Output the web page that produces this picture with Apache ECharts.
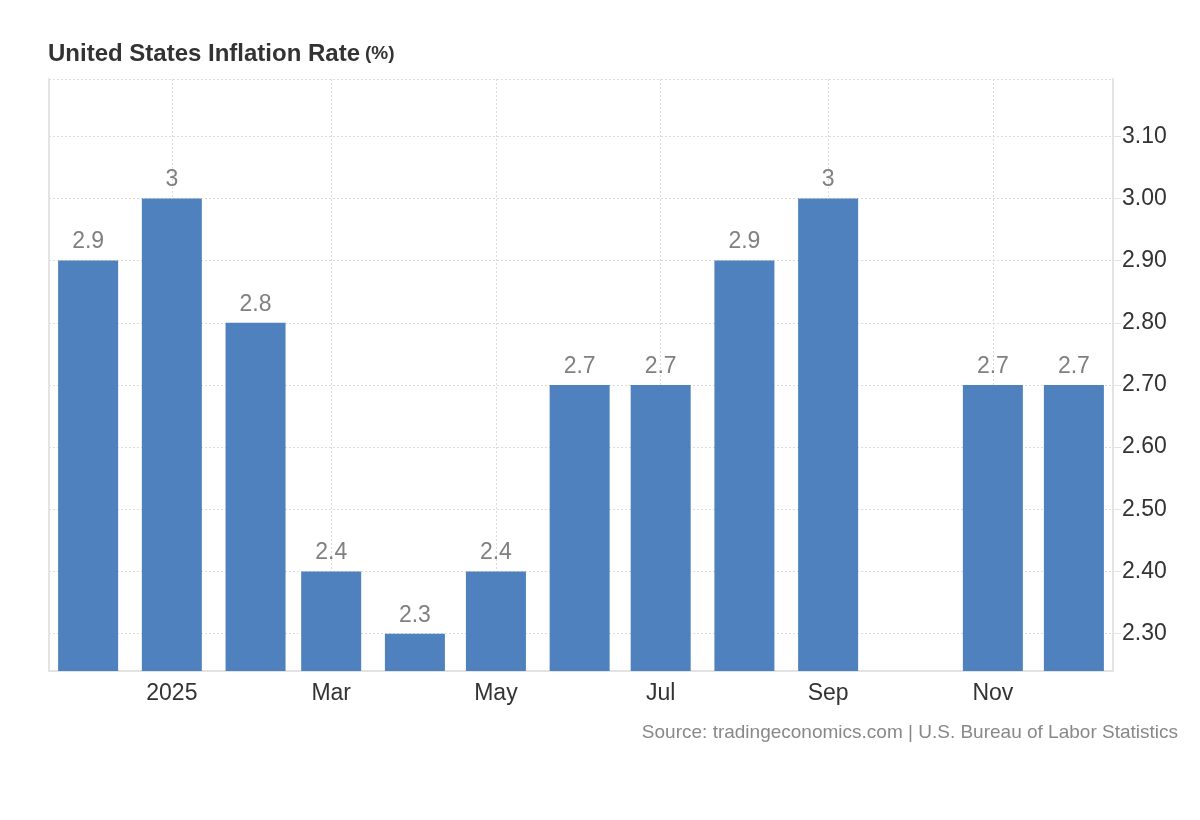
<!DOCTYPE html>
<html>
<head>
<meta charset="utf-8">
<script src="https://cdn.jsdelivr.net/npm/echarts@6/dist/echarts.min.js"></script>
<style>
html,body{margin:0;padding:0;background:#fff;}
#chart{width:1200px;height:820px;}
</style>
</head>
<body>
<div id="chart"></div>
<script>
// Data
const months = ['2024-12-01','2025-01-01','2025-02-01','2025-03-01','2025-04-01','2025-05-01','2025-06-01','2025-07-01','2025-08-01','2025-09-01','2025-10-01','2025-11-01','2025-12-01'];
const inflation = [2.9, 3.0, 2.8, 2.4, 2.3, 2.4, 2.7, 2.7, 2.9, 3.0, null, 2.7, 2.7];
const monthNames = ['Jan','Feb','Mar','Apr','May','Jun','Jul','Aug','Sep','Oct','Nov','Dec'];
const titleText = 'United States Inflation Rate';
const unitText = '(%)';
const sourceText = 'Source: tradingeconomics.com | U.S. Bureau of Labor Statistics';

const FONT = '"Liberation Sans", Arial, Helvetica, sans-serif';
const seriesData = months.map((m, i) => [m, inflation[i] == null ? '-' : inflation[i]]);

// Axis extent (ECharts widens a time axis by half a bar on each side, so the
// requested extent is set slightly inside the visible one: ~Nov 17 2024 .. Dec 16 2025)
const xMin = new Date(2024, 10, 27, 15).getTime();
const xMax = new Date(2025, 11, 4, 9).getTime();

const chart = echarts.init(document.getElementById('chart'));
chart.setOption({
  animation: false,
  backgroundColor: '#fff',
  textStyle: { fontFamily: FONT },
  title: {
    left: 48, top: 42, padding: 0,
    text: '{a|' + titleText + '} {b|' + unitText + '}',
    textStyle: {
      rich: {
        a: { fontFamily: FONT, fontSize: 24, fontWeight: 'bold', color: '#333' },
        b: { fontFamily: FONT, fontSize: 19, fontWeight: 'bold', color: '#333' }
      }
    }
  },
  grid: { left: 49, right: 87, top: 79, bottom: 149, containLabel: false },
  xAxis: {
    type: 'time',
    min: xMin,
    max: xMax,
    splitNumber: 5,
    axisLine: { show: true, lineStyle: { color: '#e3e3e3', width: 2 } },
    axisTick: { show: false },
    splitLine: { show: true, lineStyle: { color: '#dcdcdc', type: [2, 2], width: 1 } },
    axisLabel: {
      showMinLabel: false, showMaxLabel: false,
      margin: 11,
      color: '#333', fontSize: 23, fontFamily: FONT,
      formatter: function (val) {
        const d = new Date(val);
        if (d.getDate() !== 1 || d.getHours() !== 0) return '';
        return d.getMonth() === 0 ? String(d.getFullYear()) : monthNames[d.getMonth()];
      }
    }
  },
  yAxis: [{
    type: 'value',
    position: 'right',
    min: 2.24,
    max: 3.192,
    splitNumber: 10,
    axisLine: { show: true, lineStyle: { color: '#e3e3e3', width: 2 } },
    axisTick: { show: true, length: 19, lineStyle: { color: '#e3e3e3', width: 1 } },
    splitLine: { show: true, lineStyle: { color: '#dcdcdc', type: [2, 2], width: 1 } },
    axisLabel: {
      showMinLabel: false, showMaxLabel: false,
      margin: 8,
      color: '#333', fontSize: 23, fontFamily: FONT,
      backgroundColor: '#fff',
      padding: [2, 2, 2, 1],
      formatter: v => v.toFixed(2)
    }
  }, {
    type: 'value',
    position: 'left',
    min: 2.24,
    max: 3.192,
    axisLine: { show: true, lineStyle: { color: '#e3e3e3', width: 2 } },
    axisTick: { show: false },
    axisLabel: { show: false },
    splitLine: { show: false }
  }],
  series: [{
    type: 'bar',
    yAxisIndex: 0,
    data: seriesData,
    barWidth: 60,
    itemStyle: { color: '#4e81bd' },
    label: {
      show: true, position: 'top', distance: 7,
      color: '#808080', fontSize: 23, fontFamily: FONT,
      formatter: p => String(p.value[1])
    }
  }],
  graphic: [{
    type: 'text',
    right: 22, top: 723,
    style: { text: sourceText, fill: '#888', font: '19px ' + FONT }
  }]
});
</script>
</body>
</html>
